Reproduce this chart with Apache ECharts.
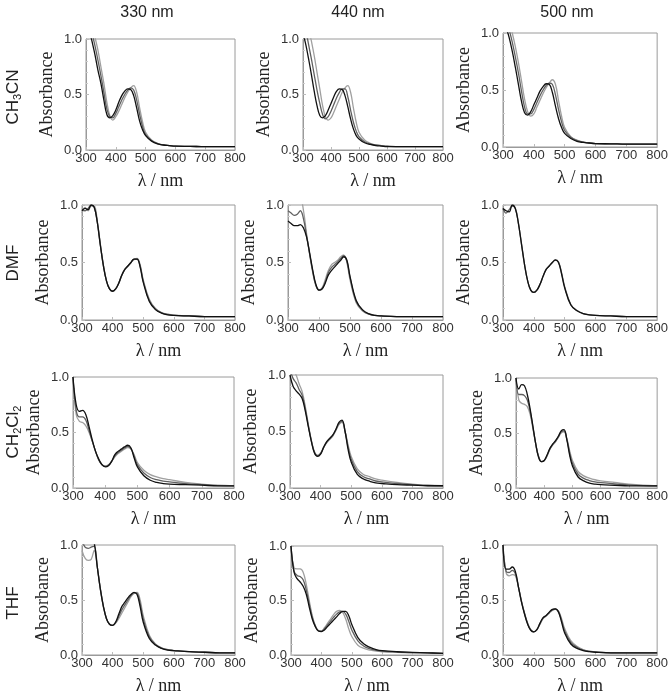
<!DOCTYPE html>
<html>
<head>
<meta charset="utf-8">
<script src="https://cdn.jsdelivr.net/npm/echarts@6/dist/echarts.min.js"></script>
<style>
  html, body { margin: 0; padding: 0; background: #fff; }
  #charts { width: 671px; height: 696px; }
</style>
</head>
<body>
<div id="charts"></div>
<script>
// wavelengths shared by every spectrum (nm)
const wavelengths = [300, 310, 320, 330, 340, 350, 360, 370, 380, 390, 400, 410, 420, 430, 440,
  450, 460, 470, 480, 490, 500, 520, 540, 560, 580, 600, 650, 700, 750, 800];

const columnTitles = ["330 nm", "440 nm", "500 nm"];
// row labels, subscripts written as rich text
const solventLabels = [
  "{a|CH}{s|3}{a|CN}",
  "{a|DMF}",
  "{a|CH}{s|2}{a|Cl}{s|2}",
  "{a|THF}"
];

// each panel: first spectrum (light), middle, last (dark)
const ch3cn330 = [
  [1.5, 1.3, 1.15, 1.02, 0.9, 0.75, 0.6, 0.43, 0.31, 0.27, 0.3, 0.35, 0.41, 0.47, 0.52, 0.56, 0.58, 0.52, 0.38, 0.25, 0.16, 0.09, 0.06, 0.045, 0.04, 0.035, 0.033, 0.03, 0.03, 0.03],
  [1.4, 1.2, 1.06, 0.94, 0.81, 0.67, 0.52, 0.37, 0.3, 0.29, 0.33, 0.39, 0.45, 0.5, 0.54, 0.56, 0.54, 0.45, 0.32, 0.21, 0.14, 0.085, 0.058, 0.045, 0.04, 0.035, 0.033, 0.03, 0.03, 0.03],
  [1.3, 1.1, 0.98, 0.86, 0.72, 0.6, 0.45, 0.32, 0.29, 0.31, 0.36, 0.43, 0.49, 0.53, 0.55, 0.545, 0.49, 0.38, 0.26, 0.18, 0.13, 0.08, 0.055, 0.045, 0.04, 0.035, 0.033, 0.03, 0.03, 0.03]
];
const ch3cn440 = [
  [1.4, 1.25, 1.1, 0.98, 0.85, 0.7, 0.55, 0.4, 0.3, 0.27, 0.29, 0.34, 0.4, 0.46, 0.52, 0.56, 0.58, 0.52, 0.38, 0.25, 0.16, 0.09, 0.06, 0.045, 0.04, 0.035, 0.03, 0.03, 0.03, 0.03],
  [1.2, 1.08, 0.95, 0.82, 0.68, 0.54, 0.42, 0.32, 0.28, 0.3, 0.35, 0.41, 0.47, 0.52, 0.55, 0.55, 0.48, 0.36, 0.25, 0.17, 0.12, 0.075, 0.055, 0.045, 0.04, 0.035, 0.03, 0.03, 0.03, 0.03],
  [1.05, 0.95, 0.82, 0.68, 0.53, 0.4, 0.31, 0.29, 0.31, 0.36, 0.42, 0.48, 0.53, 0.55, 0.545, 0.49, 0.39, 0.28, 0.19, 0.13, 0.1, 0.065, 0.05, 0.04, 0.035, 0.03, 0.03, 0.03, 0.03, 0.03]
];
const ch3cn500 = [
  [1.35, 1.22, 1.1, 1.0, 0.88, 0.74, 0.58, 0.42, 0.31, 0.27, 0.29, 0.35, 0.41, 0.47, 0.52, 0.56, 0.59, 0.55, 0.41, 0.27, 0.17, 0.09, 0.06, 0.045, 0.035, 0.03, 0.028, 0.025, 0.025, 0.025],
  [1.25, 1.14, 1.03, 0.92, 0.79, 0.65, 0.49, 0.35, 0.29, 0.29, 0.33, 0.39, 0.45, 0.5, 0.54, 0.56, 0.55, 0.46, 0.33, 0.22, 0.145, 0.085, 0.055, 0.043, 0.035, 0.03, 0.028, 0.025, 0.025, 0.025],
  [1.15, 1.05, 0.96, 0.84, 0.7, 0.55, 0.4, 0.3, 0.28, 0.31, 0.37, 0.43, 0.49, 0.53, 0.555, 0.55, 0.48, 0.36, 0.25, 0.17, 0.12, 0.075, 0.05, 0.04, 0.035, 0.03, 0.028, 0.025, 0.025, 0.025]
];
const dmf330 = [
  [0.93, 0.98, 0.95, 0.99, 0.99, 0.86, 0.66, 0.48, 0.34, 0.27, 0.25, 0.27, 0.32, 0.39, 0.44, 0.47, 0.5, 0.525, 0.535, 0.48, 0.35, 0.18, 0.1, 0.065, 0.05, 0.042, 0.035, 0.03, 0.03, 0.03],
  [0.96, 0.95, 0.97, 1.0, 0.98, 0.85, 0.65, 0.47, 0.34, 0.27, 0.25, 0.27, 0.32, 0.39, 0.44, 0.47, 0.5, 0.53, 0.53, 0.47, 0.34, 0.17, 0.095, 0.062, 0.048, 0.041, 0.035, 0.03, 0.03, 0.03],
  [0.95, 0.97, 0.96, 1.0, 0.98, 0.85, 0.65, 0.47, 0.34, 0.27, 0.25, 0.27, 0.32, 0.39, 0.44, 0.47, 0.5, 0.53, 0.53, 0.46, 0.33, 0.16, 0.09, 0.06, 0.045, 0.04, 0.035, 0.03, 0.03, 0.03]
];
const dmf440 = [
  [1.05, 1.04, 1.02, 1.03, 1.05, 0.95, 0.75, 0.57, 0.41, 0.3, 0.26, 0.28, 0.35, 0.43, 0.48, 0.5, 0.52, 0.55, 0.565, 0.5, 0.35, 0.15, 0.08, 0.05, 0.04, 0.035, 0.03, 0.03, 0.03, 0.03],
  [0.95, 0.93, 0.91, 0.92, 0.95, 0.88, 0.73, 0.57, 0.42, 0.3, 0.26, 0.275, 0.33, 0.41, 0.455, 0.48, 0.505, 0.535, 0.56, 0.51, 0.37, 0.16, 0.085, 0.052, 0.04, 0.035, 0.03, 0.03, 0.03, 0.03],
  [0.86, 0.84, 0.82, 0.82, 0.83, 0.8, 0.72, 0.58, 0.43, 0.31, 0.26, 0.27, 0.32, 0.39, 0.43, 0.46, 0.49, 0.52, 0.55, 0.52, 0.38, 0.17, 0.09, 0.055, 0.04, 0.035, 0.03, 0.03, 0.03, 0.03]
];
const dmf500 = [
  [0.97, 0.93, 0.96, 0.99, 0.97, 0.84, 0.66, 0.48, 0.34, 0.26, 0.24, 0.26, 0.31, 0.38, 0.44, 0.47, 0.5, 0.525, 0.505, 0.41, 0.29, 0.135, 0.082, 0.056, 0.045, 0.04, 0.035, 0.03, 0.03, 0.03],
  [0.97, 0.95, 0.94, 1.0, 0.97, 0.84, 0.66, 0.48, 0.34, 0.26, 0.24, 0.26, 0.31, 0.38, 0.44, 0.47, 0.5, 0.52, 0.5, 0.4, 0.28, 0.13, 0.08, 0.055, 0.045, 0.04, 0.035, 0.03, 0.03, 0.03]
];
const ch2cl2330 = [
  [1.0, 0.66, 0.6, 0.59, 0.56, 0.5, 0.42, 0.33, 0.25, 0.21, 0.2, 0.21, 0.24, 0.28, 0.31, 0.33, 0.35, 0.365, 0.35, 0.3, 0.23, 0.16, 0.12, 0.1, 0.085, 0.075, 0.05, 0.035, 0.025, 0.02],
  [1.0, 0.7, 0.64, 0.64, 0.61, 0.52, 0.42, 0.33, 0.255, 0.21, 0.195, 0.205, 0.24, 0.29, 0.32, 0.34, 0.36, 0.375, 0.355, 0.285, 0.21, 0.135, 0.095, 0.075, 0.062, 0.055, 0.04, 0.03, 0.022, 0.02],
  [1.0, 0.75, 0.69, 0.7, 0.66, 0.55, 0.43, 0.33, 0.26, 0.21, 0.19, 0.2, 0.24, 0.3, 0.33, 0.35, 0.37, 0.385, 0.36, 0.27, 0.19, 0.11, 0.07, 0.05, 0.04, 0.035, 0.03, 0.025, 0.02, 0.02]
];
const ch2cl2440 = [
  [1.1, 1.05, 1.0, 0.92, 0.85, 0.72, 0.56, 0.42, 0.32, 0.29, 0.31, 0.36, 0.4, 0.43, 0.46, 0.51, 0.56, 0.58, 0.5, 0.38, 0.28, 0.17, 0.12, 0.1, 0.08, 0.07, 0.05, 0.035, 0.025, 0.02],
  [1.05, 0.97, 0.93, 0.87, 0.82, 0.7, 0.55, 0.415, 0.315, 0.285, 0.305, 0.36, 0.405, 0.435, 0.465, 0.515, 0.57, 0.59, 0.5, 0.36, 0.255, 0.145, 0.1, 0.08, 0.062, 0.055, 0.04, 0.03, 0.022, 0.02],
  [1.0, 0.9, 0.86, 0.83, 0.79, 0.68, 0.54, 0.41, 0.31, 0.28, 0.3, 0.36, 0.41, 0.44, 0.47, 0.52, 0.58, 0.6, 0.5, 0.34, 0.23, 0.12, 0.08, 0.06, 0.045, 0.04, 0.03, 0.025, 0.02, 0.02]
];
const ch2cl2500 = [
  [1.0, 0.8, 0.77, 0.76, 0.74, 0.67, 0.54, 0.4, 0.29, 0.24, 0.25, 0.29, 0.35, 0.39, 0.42, 0.46, 0.5, 0.51, 0.45, 0.34, 0.25, 0.15, 0.11, 0.09, 0.075, 0.065, 0.05, 0.035, 0.025, 0.02],
  [1.0, 0.85, 0.85, 0.84, 0.8, 0.7, 0.55, 0.4, 0.285, 0.24, 0.25, 0.295, 0.355, 0.395, 0.425, 0.465, 0.51, 0.52, 0.445, 0.32, 0.225, 0.125, 0.088, 0.068, 0.055, 0.048, 0.038, 0.028, 0.022, 0.02],
  [1.0, 0.9, 0.94, 0.93, 0.85, 0.72, 0.56, 0.4, 0.28, 0.24, 0.25, 0.3, 0.36, 0.4, 0.43, 0.47, 0.52, 0.53, 0.44, 0.3, 0.2, 0.1, 0.065, 0.045, 0.035, 0.03, 0.025, 0.02, 0.02, 0.02]
];
const thf330 = [
  [0.95, 0.88, 0.86, 0.87, 0.95, 0.8, 0.6, 0.44, 0.33, 0.28, 0.27, 0.29, 0.33, 0.38, 0.43, 0.48, 0.53, 0.56, 0.57, 0.5, 0.36, 0.18, 0.1, 0.065, 0.05, 0.04, 0.03, 0.025, 0.02, 0.02],
  [1.05, 0.98, 0.97, 0.98, 0.99, 0.8, 0.6, 0.44, 0.33, 0.28, 0.27, 0.295, 0.35, 0.41, 0.455, 0.5, 0.54, 0.565, 0.56, 0.47, 0.33, 0.165, 0.095, 0.062, 0.048, 0.04, 0.03, 0.025, 0.02, 0.02],
  [1.1, 1.1, 1.1, 1.1, 1.02, 0.8, 0.6, 0.44, 0.33, 0.28, 0.27, 0.3, 0.37, 0.44, 0.48, 0.52, 0.55, 0.57, 0.55, 0.44, 0.3, 0.15, 0.09, 0.06, 0.045, 0.04, 0.03, 0.025, 0.02, 0.02]
];
const thf440 = [
  [1.0, 0.8, 0.79, 0.79, 0.76, 0.65, 0.5, 0.36, 0.27, 0.225, 0.22, 0.25, 0.29, 0.33, 0.37, 0.4, 0.41, 0.39, 0.33, 0.24, 0.17, 0.09, 0.06, 0.045, 0.035, 0.03, 0.025, 0.02, 0.02, 0.015],
  [1.0, 0.77, 0.73, 0.72, 0.69, 0.6, 0.47, 0.345, 0.265, 0.222, 0.217, 0.24, 0.275, 0.31, 0.345, 0.375, 0.395, 0.4, 0.375, 0.31, 0.23, 0.13, 0.08, 0.057, 0.043, 0.035, 0.027, 0.022, 0.02, 0.015],
  [1.0, 0.76, 0.7, 0.67, 0.63, 0.56, 0.44, 0.33, 0.26, 0.22, 0.215, 0.23, 0.26, 0.29, 0.32, 0.35, 0.38, 0.4, 0.4, 0.36, 0.28, 0.16, 0.1, 0.07, 0.05, 0.04, 0.03, 0.025, 0.02, 0.015]
];
const thf500 = [
  [1.0, 0.75, 0.72, 0.73, 0.72, 0.62, 0.49, 0.38, 0.29, 0.23, 0.21, 0.23, 0.28, 0.33, 0.355, 0.38, 0.405, 0.415, 0.4, 0.33, 0.24, 0.13, 0.08, 0.05, 0.035, 0.03, 0.02, 0.02, 0.02, 0.02],
  [1.0, 0.76, 0.75, 0.77, 0.74, 0.62, 0.485, 0.375, 0.285, 0.228, 0.21, 0.23, 0.285, 0.335, 0.358, 0.385, 0.41, 0.418, 0.395, 0.315, 0.22, 0.115, 0.07, 0.045, 0.033, 0.027, 0.02, 0.02, 0.02, 0.02],
  [1.0, 0.78, 0.78, 0.8, 0.76, 0.62, 0.48, 0.37, 0.28, 0.225, 0.21, 0.23, 0.29, 0.34, 0.36, 0.39, 0.415, 0.42, 0.39, 0.3, 0.2, 0.1, 0.06, 0.04, 0.03, 0.025, 0.02, 0.02, 0.02, 0.02]
];

const panels = [
  [ch3cn330, ch3cn440, ch3cn500],
  [dmf330, dmf440, dmf500],
  [ch2cl2330, ch2cl2440, ch2cl2500],
  [thf330, thf440, thf500]
];

// plot boxes in pixels: left, top, width, height
const boxes = [
  [[86, 39, 149, 111], [303, 39, 140, 111], [503, 33, 155, 114]],
  [[82, 205, 153, 115], [288, 205, 155, 115], [503, 205, 155, 115]],
  [[73, 377, 161, 111], [290, 375, 153, 113], [516, 378, 142, 110]],
  [[82, 545, 153, 113], [291, 546, 152, 114], [503, 545, 155, 113]]
];
const titleX = [147, 358, 567];
const rowY = [97, 263, 432, 603];

const grayLight = "#a0a0a0";
const grayMid = "#606060";
const grayDark = "#111111";
const serif = "'Liberation Serif', 'DejaVu Serif', serif";
const sans = "'Liberation Sans', Arial, sans-serif";

function shade(k, n) {
  if (n === 2) return k === 0 ? grayMid : grayDark;
  return [grayLight, grayMid, grayDark][k];
}

const chart = echarts.init(document.getElementById("charts"));

let grids = [], xAxes = [], yAxes = [], series = [];
for (let r = 0; r < panels.length; r++) {
  for (let c = 0; c < 3; c++) {
    let b = boxes[r][c];
    let idx = grids.length;
    grids.push({
      left: b[0], top: b[1], width: b[2], height: b[3],
      show: true, borderColor: "#9a9a9a", borderWidth: 1
    });
    xAxes.push({
      gridIndex: idx, type: "value", min: 300, max: 800, interval: 100,
      name: "λ / nm", nameLocation: "middle", nameGap: 22,
      nameTextStyle: { fontFamily: serif, fontSize: 18, color: "#222" },
      axisLine: { show: true, lineStyle: { color: "#9a9a9a" } },
      axisTick: { show: true, inside: true, length: 3, lineStyle: { color: "#bbb" } },
      axisLabel: { fontFamily: sans, fontSize: 13, color: "#333", margin: 2 },
      splitLine: { show: false }
    });
    yAxes.push({
      gridIndex: idx, type: "value", min: 0, max: 1, interval: 0.5,
      name: "Absorbance", nameLocation: "middle", nameGap: 30,
      nameTextStyle: { fontFamily: serif, fontSize: 18, color: "#222" },
      axisLine: { show: true, lineStyle: { color: "#9a9a9a" } },
      axisTick: { show: true, inside: true, length: 3, lineStyle: { color: "#bbb" } },
      minorTick: { show: true, splitNumber: 5, length: 2, lineStyle: { color: "#ccc" } },
      axisLabel: {
        fontFamily: sans, fontSize: 13, color: "#333", margin: 4,
        formatter: function(v) { return v.toFixed(1); }
      },
      splitLine: { show: false }
    });
    let curves = panels[r][c];
    for (let k = 0; k < curves.length; k++) {
      series.push({
        type: "line",
        xAxisIndex: idx, yAxisIndex: idx,
        data: wavelengths.map(function(w, i) { return [w, curves[k][i]]; }),
        smooth: 0.4,
        showSymbol: false,
        silent: true,
        clip: true,
        lineStyle: { color: shade(k, curves.length), width: 1.3 }
      });
    }
  }
}

let graphics = [];
for (let c = 0; c < columnTitles.length; c++) {
  graphics.push({
    type: "text", x: titleX[c], y: 13,
    style: {
      text: columnTitles[c], fontFamily: sans, fontSize: 16, fill: "#222",
      align: "center", verticalAlign: "middle"
    }
  });
}
for (let r = 0; r < solventLabels.length; r++) {
  graphics.push({
    type: "text", x: 13, y: rowY[r], rotation: Math.PI / 2,
    style: {
      text: solventLabels[r], fill: "#222",
      align: "center", verticalAlign: "middle",
      rich: {
        a: { fontFamily: sans, fontSize: 17, fill: "#222" },
        s: { fontFamily: sans, fontSize: 11, fill: "#222", padding: [9, 0, 0, 0] }
      }
    }
  });
}

const option = {
  animation: false,
  backgroundColor: "#fff",
  grid: grids,
  xAxis: xAxes,
  yAxis: yAxes,
  series: series,
  graphic: graphics
};

chart.setOption(option);
window.onresize = function() {
  chart.resize();
};
</script>
</body>
</html>
